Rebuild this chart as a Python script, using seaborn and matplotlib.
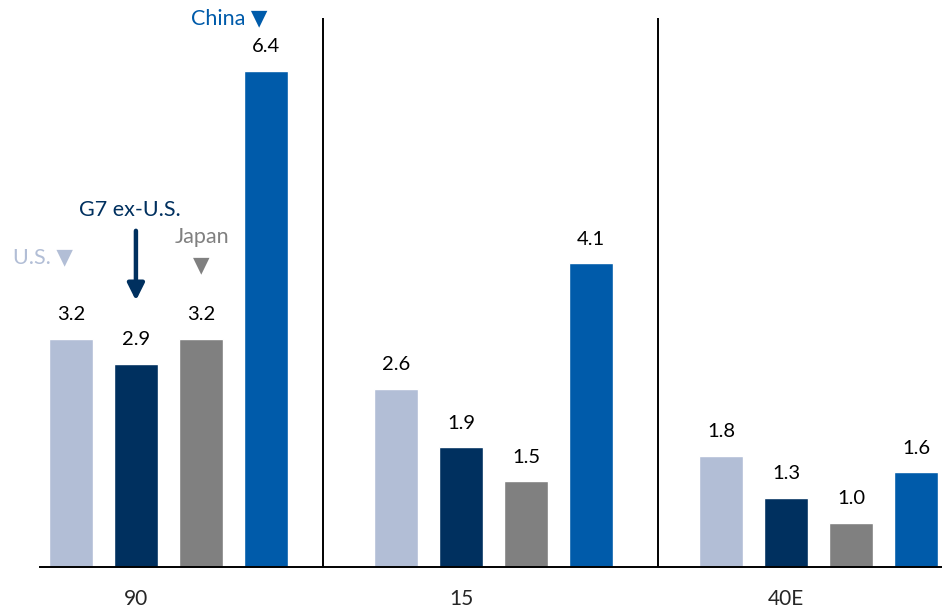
import numpy as np
import pandas as pd

import matplotlib
matplotlib.use('Agg')
import matplotlib.pyplot as plt
import seaborn as sns

periods = ['90', '15', '40E']
series = ['U.S.', 'G7 ex-U.S.', 'Japan', 'China']
us = [3.2, 2.6, 1.8]
g7 = [2.9, 1.9, 1.3]
japan = [3.2, 1.5, 1.0]
china = [6.4, 4.1, 1.6]

colors = ['#B2BED6', '#00305F', '#808080', '#005BAA']

rows = []
for name, vals in zip(series, [us, g7, japan, china]):
    for p, v in zip(periods, vals):
        rows.append({'period': p, 'series': name, 'value': v})
df = pd.DataFrame(rows)

sns.set_style('white')
plt.rcParams['font.family'] = ['Lato', 'DejaVu Sans']

fig = plt.figure(figsize=(9.42, 6.11), dpi=100)
ax = fig.add_axes([0.0425, 0.072, 0.9575, 0.928])

sns.barplot(data=df, x='period', y='value', hue='series', order=periods,
            hue_order=series, palette=colors, width=0.8, gap=0.32,
            legend=False, ax=ax, saturation=1)

for c in ax.containers:
    ax.bar_label(c, labels=['%.1f' % b.get_height() for b in c],
                 padding=11, fontsize=14.5, color='black')

ymin = 0.47
ax.set_ylim(ymin, ymin + 567 / 83.7)
ax.set_xlim(-0.395, 2.38)

# separators between groups
ax.vlines([0.475, 1.505], ymin, 7.03, color='black', lw=1.4)

# labels sit under the second bar of each group
ax.set_xticks([i - 0.1 for i in range(len(periods))])
ax.set_xticklabels(periods, fontsize=15)
ax.tick_params(axis='x', length=0, pad=16)
ax.set_yticks([])
ax.set_xlabel('')
ax.set_ylabel('')

for s in ['top', 'left', 'right']:
    ax.spines[s].set_visible(False)
ax.spines['bottom'].set_color('black')
ax.spines['bottom'].set_linewidth(1.4)

# series annotations
ax.text(0.186, 7.03, 'China \u25bc', color=colors[3], fontsize=15.5,
        ha='center', va='center')
ax.text(-0.386, 4.17, 'U.S. \u25bc', color=colors[0], fontsize=15.5,
        ha='center', va='center')
ax.text(-0.118, 4.74, 'G7 ex-U.S.', color=colors[1], fontsize=15.5,
        ha='center', va='center')
ax.annotate('', xy=(-0.1, 3.62), xytext=(-0.1, 4.52),
            arrowprops=dict(arrowstyle='-|>,head_width=0.5,head_length=1.0',
                            color=colors[1], lw=3.2))
ax.text(0.103, 4.41, 'Japan', color=colors[2], fontsize=15.5,
        ha='center', va='center')
ax.text(0.1, 4.07, '\u25bc', color=colors[2], fontsize=15.5,
        ha='center', va='center')

fig.savefig('out.png', dpi=100)
